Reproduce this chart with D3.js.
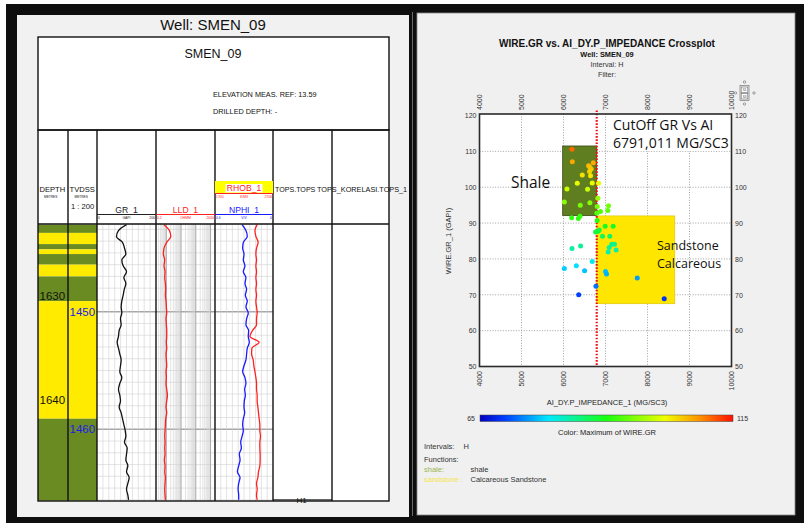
<!DOCTYPE html>
<html>
<head>
<meta charset="utf-8">
<script src="https://cdn.jsdelivr.net/npm/d3@7"></script>
<style>
  html, body { margin: 0; padding: 0; background: #fff; }
  svg { display: block; font-family: "Liberation Sans", Arial, sans-serif; }
</style>
</head>
<body>
<svg id="chart" width="804" height="523"></svg>
<script>
// ---------------- Crossplot data: acoustic impedance vs gamma ray ----------------
const impedance = [6202, 6210, 6708, 6597, 6628, 6660, 6620, 6644, 6447, 6684, 6328, 6834, 6083, 6573,
  6818, 6020, 6628, 6399, 7071, 6802, 7055, 6881, 6794, 6194, 6391, 6352, 6802, 6992, 7182, 6850,
  6826, 6763, 6929, 7103, 7150, 7214, 7087, 7253, 7063, 6202, 6407, 6684, 6020, 6305, 6502, 7000,
  7024, 7756, 6773, 6362, 8398];
const gammaRay = [110.6, 107.1, 106.8, 106.0, 105.6, 105.1, 104.4, 103.2, 103.4, 101.2, 101.1, 101.1, 99.5, 99.4,
  96.9, 95.9, 95.7, 95.0, 94.8, 94.6, 93.5, 93.2, 92.8, 91.5, 91.9, 91.3, 90.7, 89.1, 89.1, 88.1,
  87.7, 87.5, 86.3, 86.3, 84.1, 84.1, 83.2, 82.5, 81.9, 82.9, 83.6, 79.3, 77.3, 78.1, 76.7, 76.5,
  75.8, 74.7, 72.4, 70.0, 68.9];
const aiTicks = [4000, 5000, 6000, 7000, 8000, 9000, 10000];
const grTicks = [50, 60, 70, 80, 90, 100, 110, 120];
const cutoffAI = 6791.011;
// [AI min, AI max, GR min, GR max]
const shaleBox = [5980, cutoffAI, 92.1, 111.5];
const sandBox = [cutoffAI, 8650, 67.5, 92.0];
// colour bar: GR range and colour stops
const colorRange = [65, 115];
const colorStopOffsets = [0, 0.1, 0.27, 0.5, 0.73, 0.87, 1];
const colorStopColors = ["#0000c0", "#0040ff", "#00e8ff", "#18ff10", "#f0ff00", "#ff9000", "#ff1000"];

// ---------------- Well log data (TVDSS sampled) ----------------
const tvdss = [1442.6, 1443.1, 1443.6, 1444.1, 1444.6, 1445.1, 1445.6, 1446.1, 1446.6, 1447.1, 1447.6, 1448.1,
  1448.6, 1449.1, 1449.6, 1450.1, 1450.6, 1451.1, 1451.6, 1452.1, 1452.6, 1453.1, 1453.6, 1454.1,
  1454.6, 1455.1, 1455.6, 1456.1, 1456.6, 1457.1, 1457.6, 1458.1, 1458.6, 1459.1, 1459.6, 1460.1,
  1460.6, 1461.1, 1461.6, 1462.1, 1462.6, 1463.1, 1463.6, 1464.1, 1464.6, 1465.1, 1465.6, 1466.0];
const grLog = [100.1, 72.8, 66.0, 86.4, 93.2, 97.8, 84.1, 88.7, 100.1, 91.0, 97.8, 92.4,
  88.7, 84.1, 81.9, 84.1, 79.6, 81.9, 75.1, 72.8, 68.3, 72.8, 77.3, 81.9,
  79.6, 77.3, 84.1, 77.3, 72.8, 77.3, 79.6, 75.1, 81.9, 86.4, 91.0, 95.5,
  97.8, 93.2, 102.3, 100.1, 97.8, 104.6, 100.1, 109.1, 104.6, 100.1, 104.6, 106.9];
const lldLog = [0.70, 1.62, 2.00, 1.07, 0.70, 0.63, 0.78, 0.70, 0.82, 0.78, 0.87, 0.91,
  0.87, 0.96, 1.01, 1.07, 0.96, 1.01, 1.07, 1.07, 1.01, 1.07, 0.96, 1.01,
  1.07, 0.96, 1.01, 0.96, 1.07, 1.19, 1.07, 0.96, 1.07, 0.91, 0.87, 0.82,
  0.78, 0.82, 0.78, 0.82, 0.74, 0.82, 0.78, 0.87, 0.82, 0.78, 0.82, 0.87];
const nphiLog = [0.320, 0.280, 0.266, 0.307, 0.314, 0.300, 0.307, 0.290, 0.307, 0.280, 0.290, 0.273,
  0.286, 0.266, 0.280, 0.256, 0.273, 0.280, 0.252, 0.256, 0.245, 0.266, 0.273, 0.280,
  0.300, 0.314, 0.290, 0.280, 0.293, 0.286, 0.297, 0.300, 0.293, 0.307, 0.314, 0.307,
  0.320, 0.334, 0.327, 0.348, 0.341, 0.355, 0.368, 0.341, 0.355, 0.361, 0.355, 0.355];
const rhobLog = [2427, 2388, 2405, 2444, 2416, 2405, 2416, 2405, 2416, 2405, 2416, 2405,
  2416, 2405, 2416, 2427, 2416, 2416, 2348, 2302, 2461, 2336, 2331, 2359,
  2370, 2388, 2405, 2416, 2416, 2427, 2427, 2439, 2450, 2461, 2473, 2473,
  2484, 2473, 2473, 2478, 2478, 2473, 2450, 2439, 2416, 2427, 2416, 2427];
// lithology intervals: top, base (TVDSS), type
const lithoTop = [1442.6, 1443.3, 1444.25, 1444.7, 1445.1, 1446.0, 1447.0, 1449.1, 1459.1];
const lithoBase = [1443.3, 1444.25, 1444.7, 1445.1, 1446.0, 1447.0, 1449.1, 1459.1, 1466.07];
const lithoType = ["shale", "sand", "shale", "sand", "shale", "sand", "shale", "sand", "shale"];
// survey pairs tying measured depth to TVDSS
const surveyMD = [1630, 1640];
const surveyTVD = [1448.67, 1457.51];
const tvdLabels = [1450, 1460];
const topNames = ["H1"];
const topDepths = [1466.0];

const svg = d3.select("#chart");

// ---------------- page frame ----------------
svg.append("rect").attr("width", 804).attr("height", 523).attr("fill", "#fff");
svg.append("rect").attr("x", 6).attr("y", 4).attr("width", 798).attr("height", 519).attr("fill", "#0e0e0e");
svg.append("rect").attr("x", 17).attr("y", 15).attr("width", 392).attr("height", 502).attr("fill", "#f1f1f1");
svg.append("line").attr("x1", 412.5).attr("x2", 412.5).attr("y1", 12).attr("y2", 516)
  .attr("stroke", "#6a6a6a").attr("stroke-width", 1);
svg.append("rect").attr("x", 417).attr("y", 13).attr("width", 378).attr("height", 502)
  .attr("fill", "#f0f0f0").attr("stroke", "#8a8a8a").attr("stroke-width", 0.8);

// ================= LEFT: well log display =================
const log = svg.append("g");
log.append("text").attr("x", 213).attr("y", 30).attr("text-anchor", "middle")
  .attr("font-size", 15).attr("fill", "#111").text("Well: SMEN_09");

const L = 38, R = 389;
const trackX = [38, 68, 97, 156, 215, 273, 332, 389];
const bodyTop = 224, bodyBot = 501;

log.append("rect").attr("x", L).attr("y", 37).attr("width", R - L).attr("height", bodyBot - 37).attr("fill", "#fff");

// header block
log.append("text").attr("x", 213).attr("y", 57.5).attr("text-anchor", "middle")
  .attr("font-size", 12.5).attr("fill", "#111").text("SMEN_09");
log.append("text").attr("x", 213).attr("y", 97).attr("font-size", 7.3).attr("fill", "#111")
  .text("ELEVATION MEAS. REF: 13.59");
log.append("text").attr("x", 213).attr("y", 114).attr("font-size", 7.3).attr("fill", "#111")
  .text("DRILLED DEPTH: -");

// depth scale and track scales
const yD = d3.scaleLinear().domain([1450, 1460]).range([311.7, 429.3]);
const mdToTvd = d3.scaleLinear().domain(surveyMD).range(surveyTVD);
const xGR = d3.scaleLinear().domain([0, 200]).range([trackX[2], trackX[3]]);
const xLLD = d3.scaleLog().domain([0.2, 2000]).range([trackX[3], trackX[4]]);
const xNPHI = d3.scaleLinear().domain([0.6, 0]).range([trackX[4], trackX[5]]);
const xRHOB = d3.scaleLinear().domain([1700, 2700]).range([trackX[4], trackX[5]]);

// lithology fill in depth columns
const lithoColor = { shale: "#6a8b22", sand: "#ffeb00" };
log.append("g").selectAll("rect").data(lithoTop).join("rect")
  .attr("x", trackX[0]).attr("width", trackX[2] - trackX[0])
  .attr("y", (d) => yD(d)).attr("height", (d, i) => yD(lithoBase[i]) - yD(d))
  .attr("fill", (d, i) => lithoColor[lithoType[i]]);

// track grids
const grid = log.append("g");
const meterLines = d3.range(1443, 1467);
[[trackX[2], trackX[3]], [trackX[3], trackX[4]], [trackX[4], trackX[5]]].forEach(([a, b]) => {
  grid.append("g").selectAll("line").data(meterLines).join("line")
    .attr("x1", a).attr("x2", b).attr("y1", (d) => yD(d)).attr("y2", (d) => yD(d))
    .attr("stroke", (d) => d % 10 === 0 ? "#a6a6a6" : "#d2d2d2")
    .attr("stroke-width", (d) => d % 10 === 0 ? 1.4 : 0.6);
});
grid.append("g").selectAll("line").data(d3.range(20, 200, 20)).join("line")
  .attr("x1", (d) => xGR(d)).attr("x2", (d) => xGR(d)).attr("y1", bodyTop).attr("y2", bodyBot)
  .attr("stroke", "#d0d0d0").attr("stroke-width", 0.6);
const logLines = [];
[0.1, 1, 10, 100, 1000].forEach((dec) => { for (let k = 1; k < 10; k++) { const v = dec * k; if (v > 0.2 && v < 2000) logLines.push(v); } });
grid.append("g").selectAll("line").data(logLines).join("line")
  .attr("x1", (d) => xLLD(d)).attr("x2", (d) => xLLD(d)).attr("y1", bodyTop).attr("y2", bodyBot)
  .attr("stroke", (d) => [1, 10, 100, 1000].includes(d) ? "#a8a8a8" : "#cfcfcf")
  .attr("stroke-width", (d) => [1, 10, 100, 1000].includes(d) ? 1 : 0.6);
grid.append("g").selectAll("line").data(d3.range(0.06, 0.6, 0.06)).join("line")
  .attr("x1", (d) => xNPHI(d)).attr("x2", (d) => xNPHI(d)).attr("y1", bodyTop).attr("y2", bodyBot)
  .attr("stroke", "#d0d0d0").attr("stroke-width", 0.6);

// curves
const clipId = "trackClip";
svg.append("clipPath").attr("id", clipId).append("rect")
  .attr("x", trackX[2]).attr("y", bodyTop).attr("width", trackX[5] - trackX[2]).attr("height", bodyBot - bodyTop);
const curves = log.append("g").attr("clip-path", `url(#${clipId})`);
function drawCurve(values, xs, color) {
  const line = d3.line().x((d) => xs(d)).y((d, i) => yD(tvdss[i])).curve(d3.curveMonotoneY);
  curves.append("path").datum(values).attr("d", line).attr("fill", "none")
    .attr("stroke", color).attr("stroke-width", 1.3);
}
drawCurve(grLog, xGR, "#111");
drawCurve(lldLog, xLLD, "#ff2020");
drawCurve(nphiLog, xNPHI, "#1a1aff");
drawCurve(rhobLog, xRHOB, "#ff2020");

// depth labels
log.append("g").selectAll("text").data(surveyMD).join("text")
  .attr("x", 39.5).attr("y", (d) => yD(mdToTvd(d))).attr("dy", "0.36em")
  .attr("font-size", 11.5).attr("fill", "#111").text((d) => d);
log.append("g").selectAll("text").data(tvdLabels).join("text")
  .attr("x", 69.5).attr("y", (d) => yD(d)).attr("dy", "0.36em")
  .attr("font-size", 11.5).attr("fill", "#1c1ce6").text((d) => d);

// table lines
const tl = log.append("g").attr("stroke", "#111").attr("stroke-width", 1.4).attr("fill", "none");
tl.append("rect").attr("x", L).attr("y", 37).attr("width", R - L).attr("height", 93);
tl.append("rect").attr("x", L).attr("y", 130).attr("width", R - L).attr("height", bodyBot - 130);
tl.append("line").attr("x1", L).attr("x2", R).attr("y1", bodyTop).attr("y2", bodyTop);
tl.selectAll("line.col").data(trackX.slice(1, -1)).join("line").attr("class", "col")
  .attr("x1", (d) => d).attr("x2", (d) => d).attr("y1", 130).attr("y2", bodyBot);

// track headers
const hd = log.append("g");
hd.append("text").attr("x", 39.5).attr("y", 192).attr("font-size", 7.6).attr("fill", "#111").text("DEPTH");
hd.append("text").attr("x", 44).attr("y", 198).attr("font-size", 3.2).attr("fill", "#111").text("METRES");
hd.append("text").attr("x", 69.5).attr("y", 192).attr("font-size", 7.6).attr("fill", "#111").text("TVDSS");
hd.append("text").attr("x", 74.5).attr("y", 198).attr("font-size", 3.2).attr("fill", "#111").text("METRES");
hd.append("text").attr("x", 71).attr("y", 208.5).attr("font-size", 7.6).attr("fill", "#111").text("1 : 200");

function curveHeader(name, color, x0, x1, yLine, yName, lo, unit, hi) {
  const cx = (x0 + x1) / 2;
  hd.append("text").attr("x", cx).attr("y", yName).attr("text-anchor", "middle")
    .attr("font-size", 8.6).attr("fill", color).text(name);
  hd.append("line").attr("x1", x0).attr("x2", x1).attr("y1", yLine).attr("y2", yLine)
    .attr("stroke", color).attr("stroke-width", 1);
  const s = hd.append("g").attr("font-size", 3.4).attr("fill", color);
  s.append("text").attr("x", x0 + 1).attr("y", yLine + 4.3).text(lo);
  s.append("text").attr("x", cx).attr("y", yLine + 4.3).attr("text-anchor", "middle").text(unit);
  s.append("text").attr("x", x1 - 1).attr("y", yLine + 4.3).attr("text-anchor", "end").text(hi);
}
curveHeader("GR_1", "#222", trackX[2], trackX[3], 214.5, 212.5, "0", "GAPI", "200");
curveHeader("LLD_1", "#ff2020", trackX[3], trackX[4], 214.5, 212.5, "0.2", "OHMM", "2000");
curveHeader("NPHI_1", "#1a1aff", trackX[4], trackX[5], 214.5, 212.5, "0.6", "V/V", "0");
hd.append("rect").attr("x", trackX[4]).attr("y", 181).attr("width", trackX[5] - trackX[4]).attr("height", 12.5).attr("fill", "#ffff00");
hd.append("rect").attr("x", 225.5).attr("y", 184).attr("width", 37).attr("height", 8.5).attr("fill", "#fff");
curveHeader("RHOB_1", "#ff2020", trackX[4], trackX[5], 193.5, 191.2, "1700", "K/M3", "2700");
hd.append("text").attr("x", 275).attr("y", 192).attr("font-size", 7.1).attr("fill", "#111").text("TOPS.TOPS");
hd.append("text").attr("x", 317).attr("y", 192).attr("font-size", 7.3).attr("fill", "#111").text("TOPS_KORELASI.TOPS_1");

// formation top marker
topNames.forEach((n, i) => {
  log.append("line").attr("x1", trackX[5]).attr("x2", trackX[6]).attr("y1", yD(topDepths[i])).attr("y2", yD(topDepths[i]))
    .attr("stroke", "#111").attr("stroke-width", 1);
  log.append("text").attr("x", 301.5).attr("y", yD(topDepths[i]) + 3).attr("text-anchor", "middle")
    .attr("font-size", 8).attr("fill", "#111").text(n);
});

// ================= RIGHT: crossplot =================
const cp = svg.append("g").attr("font-family", "Liberation Sans, Arial, sans-serif");
const cx0 = 607;
cp.append("text").attr("x", cx0).attr("y", 46.5).attr("text-anchor", "middle").attr("font-size", 10)
  .attr("font-weight", "bold").attr("fill", "#111").text("WIRE.GR vs. AI_DY.P_IMPEDANCE Crossplot");
cp.append("text").attr("x", cx0).attr("y", 57.3).attr("text-anchor", "middle").attr("font-size", 7.4)
  .attr("font-weight", "bold").attr("fill", "#111").text("Well: SMEN_09");
cp.append("text").attr("x", cx0).attr("y", 67.3).attr("text-anchor", "middle").attr("font-size", 7.2)
  .attr("fill", "#333").text("Interval: H");
cp.append("text").attr("x", cx0).attr("y", 76.8).attr("text-anchor", "middle").attr("font-size", 7.2)
  .attr("fill", "#333").text("Filter:");

const px0 = 479.5, px1 = 731.5, py0 = 114, py1 = 366.5;
const x = d3.scaleLinear().domain([4000, 10000]).range([px0, px1]);
const y = d3.scaleLinear().domain([50, 120]).range([py1, 115.5]);

cp.append("rect").attr("x", px0).attr("y", py0).attr("width", px1 - px0).attr("height", py1 - py0).attr("fill", "#fff");

// dotted grid
const gx = cp.append("g").attr("stroke", "#8a8a8a").attr("stroke-width", 0.8).attr("stroke-dasharray", "1,1.6");
gx.selectAll("line.v").data(aiTicks.slice(1, -1)).join("line").attr("class", "v")
  .attr("x1", (d) => x(d)).attr("x2", (d) => x(d)).attr("y1", py0).attr("y2", py1);
gx.selectAll("line.h").data(grTicks.slice(1, -1)).join("line").attr("class", "h")
  .attr("x1", px0).attr("x2", px1).attr("y1", (d) => y(d)).attr("y2", (d) => y(d));

// lithology function boxes
cp.append("rect").attr("x", x(shaleBox[0])).attr("width", x(shaleBox[1]) - x(shaleBox[0]))
  .attr("y", y(shaleBox[3])).attr("height", y(shaleBox[2]) - y(shaleBox[3]))
  .attr("fill", "#5f7e1f").attr("stroke", "#3c4a1a").attr("stroke-width", 0.8);
cp.append("rect").attr("x", x(sandBox[0])).attr("width", x(sandBox[1]) - x(sandBox[0]))
  .attr("y", y(sandBox[3])).attr("height", y(sandBox[2]) - y(sandBox[3]))
  .attr("fill", "#ffe600").attr("stroke", "#d8c200").attr("stroke-width", 0.6);

// annotation box
cp.append("rect").attr("x", 610).attr("y", py0 + 1).attr("width", px1 - 611).attr("height", 36).attr("fill", "#fff");
const ann = cp.append("g").attr("font-family", "Open Sans, Lato, sans-serif").attr("fill", "#111");
ann.append("text").attr("x", 613).attr("y", 130).attr("font-size", 14).text("CutOff GR Vs AI");
ann.append("text").attr("x", 613).attr("y", 148).attr("font-size", 14).text("6791,011 MG/SC3");
ann.append("text").attr("x", 511).attr("y", 188).attr("font-size", 15.5).text("Shale");
ann.append("text").attr("x", 657).attr("y", 250).attr("font-size", 12.5).text("Sandstone");
ann.append("text").attr("x", 657).attr("y", 267.5).attr("font-size", 12.5).text("Calcareous");

// colour scale
const colorScale = d3.scaleLinear()
  .domain(colorStopOffsets.map((o) => colorRange[0] + o * (colorRange[1] - colorRange[0])))
  .range(colorStopColors).clamp(true);

// cutoff line
cp.append("line").attr("x1", x(cutoffAI)).attr("x2", x(cutoffAI)).attr("y1", 110.5).attr("y2", py1)
  .attr("stroke", "#ee1111").attr("stroke-width", 2.2).attr("stroke-dasharray", "1.6,1.6");

// points
cp.append("g").selectAll("circle").data(impedance).join("circle")
  .attr("cx", (d) => x(d)).attr("cy", (d, i) => y(gammaRay[i])).attr("r", 2.5)
  .attr("fill", (d, i) => colorScale(gammaRay[i]));

// frame
cp.append("rect").attr("x", px0).attr("y", py0).attr("width", px1 - px0).attr("height", py1 - py0)
  .attr("fill", "none").attr("stroke", "#2a2a2a").attr("stroke-width", 1.6);

// axes
function styleAxis(g) {
  g.select(".domain").remove();
  g.selectAll("text").attr("font-size", 7).attr("fill", "#333").attr("font-family", "Liberation Sans, Arial, sans-serif");
}
cp.append("g").attr("transform", `translate(${px0},0)`)
  .call(d3.axisLeft(y).tickValues(grTicks).tickSize(0).tickPadding(3).tickFormat(d3.format("d"))).call(styleAxis);
cp.append("g").attr("transform", `translate(${px1},0)`)
  .call(d3.axisRight(y).tickValues(grTicks).tickSize(0).tickPadding(3.5).tickFormat(d3.format("d"))).call(styleAxis);
cp.append("g").attr("transform", "translate(0,110)")
  .call(d3.axisTop(x).tickValues(aiTicks).tickSize(0).tickFormat(d3.format("d"))).call(styleAxis)
  .selectAll("text").attr("x", 0).attr("y", 0).attr("dy", "0.35em").attr("transform", "rotate(-90)")
  .attr("text-anchor", "start");
cp.append("g").attr("transform", "translate(0,371)")
  .call(d3.axisBottom(x).tickValues(aiTicks).tickSize(0).tickFormat(d3.format("d"))).call(styleAxis)
  .selectAll("text").attr("x", 0).attr("y", 0).attr("dy", "0.35em").attr("transform", "rotate(-90)")
  .attr("text-anchor", "end");

cp.append("text").attr("transform", "translate(450.5,241) rotate(-90)").attr("text-anchor", "middle")
  .attr("font-size", 7.5).attr("fill", "#333").text("WIRE.GR_1 (GAPI)");
cp.append("text").attr("x", cx0).attr("y", 404.5).attr("text-anchor", "middle")
  .attr("font-size", 7.5).attr("fill", "#222").text("AI_DY.P_IMPEDANCE_1 (MG/SC3)");

// colour bar
const grad = svg.append("defs").append("linearGradient").attr("id", "jet");
colorStopOffsets.forEach((o, i) => grad.append("stop").attr("offset", o).attr("stop-color", colorStopColors[i]));
cp.append("rect").attr("x", 480).attr("y", 415).attr("width", 253).attr("height", 6.5)
  .attr("fill", "url(#jet)").attr("stroke", "#444").attr("stroke-width", 0.5);
cp.append("text").attr("x", 475).attr("y", 420.5).attr("text-anchor", "end").attr("font-size", 7).attr("fill", "#333").text(colorRange[0]);
cp.append("text").attr("x", 737).attr("y", 420.5).attr("font-size", 7).attr("fill", "#333").text(colorRange[1]);
cp.append("text").attr("x", cx0).attr("y", 434.5).attr("text-anchor", "middle").attr("font-size", 7.5)
  .attr("fill", "#222").text("Color: Maximum of WIRE.GR");

// legend
const lg = cp.append("g").attr("font-size", 7.5).attr("fill", "#333");
lg.append("text").attr("x", 424).attr("y", 448.5).text("Intervals:");
lg.append("text").attr("x", 463.5).attr("y", 448.5).text("H");
lg.append("text").attr("x", 424).attr("y", 461.5).text("Functions:");
lg.append("text").attr("x", 424).attr("y", 471.5).attr("fill", "#9ab54e").text("shale:");
lg.append("text").attr("x", 470.5).attr("y", 471.5).text("shale");
lg.append("text").attr("x", 424).attr("y", 481.5).attr("fill", "#f3e64a").text("sandstone :");
lg.append("text").attr("x", 470.5).attr("y", 481.5).text("Calcareous Sandstone");

// small orientation glyph
const ic = cp.append("g").attr("stroke", "#666").attr("stroke-width", 0.6);
ic.append("rect").attr("x", 740).attr("y", 85.5).attr("width", 9).attr("height", 15).attr("fill", "#eee");
ic.append("rect").attr("x", 741.2).attr("y", 87).attr("width", 6.6).attr("height", 5.5).attr("fill", "#fff");
ic.append("rect").attr("x", 741.2).attr("y", 93.5).attr("width", 6.6).attr("height", 5.5).attr("fill", "#fff");
[[744.5, 82], [744.5, 104], [735.5, 93], [754, 93]].forEach(([a, b]) =>
  ic.append("circle").attr("cx", a).attr("cy", b).attr("r", 1.2).attr("fill", "none"));
cp.append("text").attr("x", 744.5).attr("y", 91.3).attr("text-anchor", "middle").attr("font-size", 3).attr("fill", "#333").text("S1");
cp.append("text").attr("x", 744.5).attr("y", 97.8).attr("text-anchor", "middle").attr("font-size", 3).attr("fill", "#333").text("S3");
</script>
</body>
</html>
